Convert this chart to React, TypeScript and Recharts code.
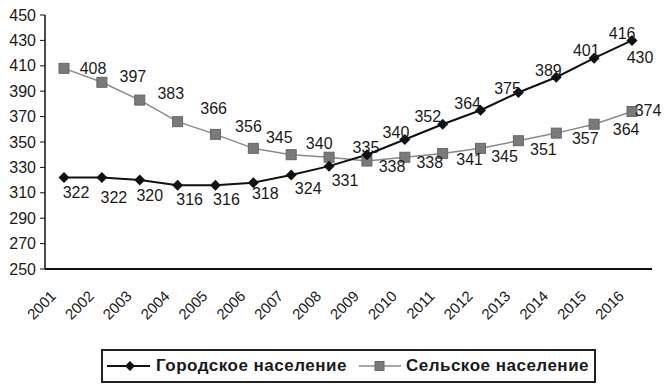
import { LineChart, Line, XAxis, YAxis, Legend } from 'recharts';

const years = ['2001', '2002', '2003', '2004', '2005', '2006', '2007', '2008', '2009', '2010', '2011', '2012', '2013', '2014', '2015', '2016'];
const urban = [322, 322, 320, 316, 316, 318, 324, 331, 340, 352, 364, 375, 389, 401, 416, 430];
const rural = [408, 397, 383, 366, 356, 345, 340, 338, 335, 338, 341, 345, 351, 357, 364, 374];
const yTicks = [250, 270, 290, 310, 330, 350, 370, 390, 410, 430, 450];
const urbanName = 'Городское население';
const ruralName = 'Сельское население';

const data = years.map((year, i) => ({ year, urban: urban[i], rural: rural[i] }));

const FONT = "'Liberation Sans', Arial, sans-serif";
const INK = '#1a1a1a';
const GREY_LINE = '#8a8a8a';
const GREY_MARK = '#7a7a7a';

// label offsets (text centre relative to the point), as placed in the source
const urbanOffsets = [
  [12, 15], [12, 20], [10, 15], [12, 14], [11, 14], [12, 11], [17, 13], [16, 14],
  [29, -22], [23, -23], [25, -21], [27, -22], [30, -22], [30, -27], [28, -25], [8, 17],
];
const ruralOffsets = [
  [29, 0], [31, -6], [31, -7], [36, -13], [33, -8], [26, -11], [28, -11], [63, 9],
  [-1, -14], [25, 5], [27, 6], [24, 8], [25, 9], [29, 5], [32, 5], [16, -1],
];

const makeLabel = (offsets: number[][]) => (props: any) => {
  const { x, y, value, index } = props;
  const [dx, dy] = offsets[index] || [0, -12];
  return (
    <text
      key={`lbl-${index}`}
      x={x + dx}
      y={y + dy}
      textAnchor="middle"
      dominantBaseline="central"
      fontFamily={FONT}
      fontSize={16}
      fill={INK}
    >
      {value}
    </text>
  );
};

const Diamond = (props: any) => {
  const { cx, cy, index } = props;
  if (cx == null || cy == null) return null;
  return (
    <polygon
      key={`d-${index}`}
      points={`${cx},${cy - 5.5} ${cx + 5.5},${cy} ${cx},${cy + 5.5} ${cx - 5.5},${cy}`}
      fill="#111"
    />
  );
};

const Square = (props: any) => {
  const { cx, cy, index } = props;
  if (cx == null || cy == null) return null;
  return (
    <rect
      key={`s-${index}`}
      x={cx - 5}
      y={cy - 5}
      width={10}
      height={10}
      fill={GREY_MARK}
      stroke="#666"
      strokeWidth={1}
    />
  );
};

const YearTick = (props: any) => {
  const { x, y, payload } = props;
  const ax = x - 7;
  const ay = y + 26;
  return (
    <text
      x={ax}
      y={ay}
      textAnchor="end"
      transform={`rotate(-45, ${ax}, ${ay})`}
      fontFamily={FONT}
      fontSize={15}
      fill={INK}
    >
      {payload.value}
    </text>
  );
};

const LegendBox = () => (
  <div
    style={{
      boxSizing: 'border-box',
      width: 495,
      height: 34,
      border: '2px solid #222',
      display: 'flex',
      alignItems: 'center',
      fontFamily: FONT,
      fontWeight: 'bold',
      fontSize: 17,
      letterSpacing: 0.5,
      color: INK,
    }}
  >
    <svg width={47} height={12} style={{ marginLeft: 2 }}>
      <line x1={2} y1={6} x2={45} y2={6} stroke="#111" strokeWidth={2} />
      <polygon points="25,1 30,6 25,11 20,6" fill="#111" />
    </svg>
    <span style={{ marginLeft: 4 }}>{urbanName}</span>
    <svg width={46} height={12} style={{ marginLeft: 10 }}>
      <line x1={2} y1={6} x2={44} y2={6} stroke={GREY_LINE} strokeWidth={1.5} />
      <rect x={18} y={1.5} width={9} height={9} fill={GREY_MARK} stroke="#666" />
    </svg>
    <span style={{ marginLeft: 3 }}>{ruralName}</span>
  </div>
);

export default function App() {
  return (
    <div style={{ position: 'absolute', left: 0, top: 0, background: '#fff' }}>
      <LineChart width={665} height={388} data={data} margin={{ top: 15, right: 13, left: 0, bottom: 0 }}>
        <XAxis
          dataKey="year"
          height={85}
          padding={{ left: 19, right: 20 }}
          tickLine={false}
          tickSize={0}
          axisLine={{ stroke: '#111', strokeWidth: 2 }}
          tick={<YearTick />}
          interval={0}
        />
        <YAxis
          width={45}
          domain={[250, 450]}
          ticks={yTicks}
          interval={0}
          tickSize={5}
          tickMargin={4}
          axisLine={{ stroke: '#111', strokeWidth: 1.5 }}
          tickLine={{ stroke: '#111' }}
          tick={{ fontFamily: FONT, fontSize: 16, fill: INK }}
        />
        <Legend
          verticalAlign="bottom"
          content={<LegendBox />}
          wrapperStyle={{ left: 101, top: 349, width: 495, height: 34 }}
        />
        <Line
          type="linear"
          dataKey="rural"
          name={ruralName}
          stroke={GREY_LINE}
          strokeWidth={1.5}
          dot={<Square />}
          activeDot={false}
          label={makeLabel(ruralOffsets)}
          isAnimationActive={false}
        />
        <Line
          type="linear"
          dataKey="urban"
          name={urbanName}
          stroke="#111"
          strokeWidth={2}
          dot={<Diamond />}
          activeDot={false}
          label={makeLabel(urbanOffsets)}
          isAnimationActive={false}
        />
      </LineChart>
    </div>
  );
}
